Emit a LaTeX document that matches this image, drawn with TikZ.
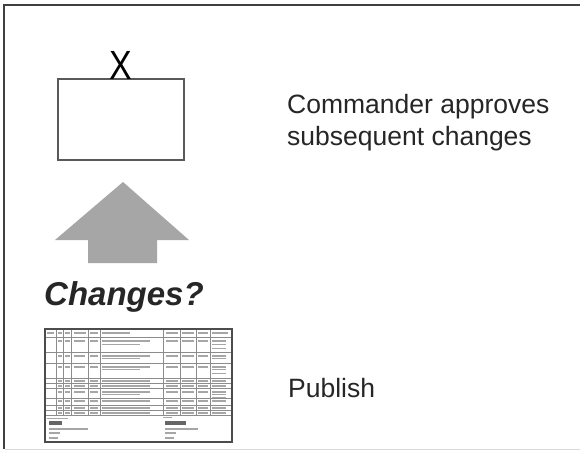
\documentclass[tikz,border=0pt]{standalone}
\usepackage{fontspec}
\setmainfont{Liberation Sans}
\begin{document}
\begin{tikzpicture}[x=1pt,y=-1pt,
  lbl/.style={inner sep=0pt,anchor=base west,text=black!85},
  tline/.style={draw=black!45,line width=0.6pt},
  bar/.style={fill=black!35,draw=none},
  docframe/.style={draw=black!70,line width=1.4pt}]
\useasboundingbox (0,0) rectangle (580,452);
\fill[white] (0,0) rectangle (580,452);
% frame
\draw[black!15,line width=1pt] (5,449) -- (580,449);
\draw[black!75,line width=2.5pt] (580,5) -- (4,5) -- (4,449);
% box with X
\node[draw=black!65,line width=1.3pt,minimum width=126pt,minimum height=81pt,inner sep=0pt] (box) at (121,119.5) {};
\node[inner sep=0pt,anchor=base] (x) at (121,79) {\fontsize{34}{34}\selectfont\scalebox{1}[1.2]{X}};
% arrow
\fill[black!35] (123,182) -- (189,240) -- (157,240) -- (157,263) -- (88,263) -- (88,240) -- (55,240) -- cycle;
\node[lbl] (chg) at (44,305) {\fontsize{33}{33}\selectfont\bfseries\itshape Changes?};
% texts
\node[lbl] (cmd1) at (287,113) {\fontsize{26.5}{32}\selectfont Commander approves};
\node[lbl] (cmd2) at (287,145) {\fontsize{26.5}{32}\selectfont subsequent changes};
\node[lbl] (pub) at (288,397) {\fontsize{26.5}{32}\selectfont Publish};
% document thumbnail
\fill[white] (45,329) rectangle (232,442);
\foreach \yy in {337,352,363,378,383,388,398,405,410,415}
  \draw[tline] (45,\yy) -- (232,\yy);
\foreach \xx in {56.7,63.3,71.7,88.3,100,163.3,180,196.7,210}
  \draw[tline] (\xx,329) -- (\xx,415);
% header bars
\foreach \a/\b in {47/54,58/62,65/70,74/86,90/98,102/130,166/178,182/194,198/208,212/228}
  \fill[bar] (\a,332) rectangle (\b,334);
% row text bars
\foreach \yy in {340,355,366,380,385,391,400,407,412}{
  \foreach \a/\b in {58/62,65/70,74/85,90/98,166/178,182/194,198/208,212/226}
    \fill[bar] (\a,\yy) rectangle (\b,\yy+1.6);
  \fill[bar] (102,\yy) rectangle (150,\yy+1.6);
}
\foreach \yy in {344,358,369,394}{
  \fill[bar] (102,\yy) rectangle (140,\yy+1.4);
  \fill[bar] (212,\yy) rectangle (226,\yy+1.4);
}
\foreach \yy in {346,371,395}
  \fill[bar] (212,\yy+2) rectangle (226,\yy+3.4);
% signature block
\fill[black!60] (49,421) rectangle (62,424.5);
\fill[bar] (49,428) rectangle (88,429.5);
\fill[bar] (49,432) rectangle (60,433.5);
\fill[bar] (49,437) rectangle (58,438.5);
\fill[bar] (47,418) rectangle (68,419.3);
\fill[black!60] (165,421) rectangle (186,424.5);
\fill[bar] (165,428) rectangle (198,429.5);
\fill[bar] (165,432) rectangle (176,433.5);
\fill[bar] (165,437) rectangle (174,438.5);
\fill[bar] (163,417) rectangle (172,418.3);
\node[docframe,minimum width=187pt,minimum height=113pt,inner sep=0pt] (doc) at (138.5,385.5) {};
\end{tikzpicture}
\end{document}
